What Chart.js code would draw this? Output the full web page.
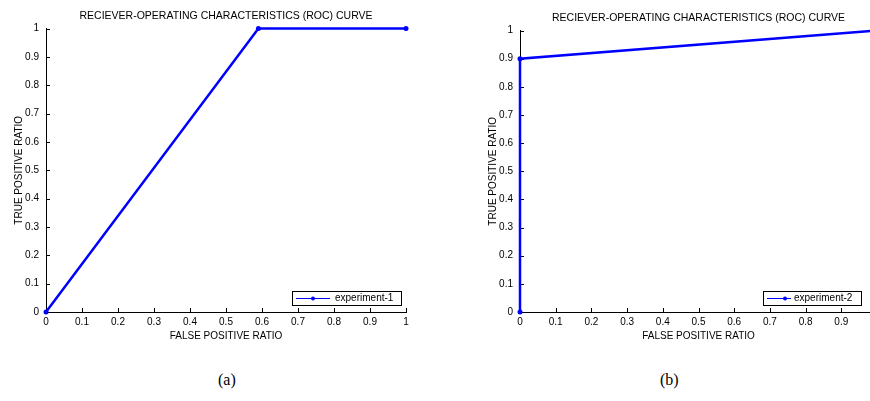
<!DOCTYPE html>
<html lang="en">
<head>
    <meta charset="UTF-8">
    <title>ROC curves</title>
    <script src="https://cdn.jsdelivr.net/npm/chart.js@4.4.0/dist/chart.umd.min.js"></script>
    <style>
        body { margin: 0; width: 870px; height: 401px; overflow: hidden; background: #fff; position: relative; }
        canvas { position: absolute; top: 0; }
        .cap { position: absolute; top: 371px; font: 16px "Liberation Serif", "Times New Roman", serif; color: #000; }
    </style>
</head>
<body>
    <canvas id="rocA" width="430" height="350" style="left:0"></canvas>
    <canvas id="rocB" width="430" height="350" style="left:474px"></canvas>
    <div class="cap" id="capA" style="left:218px"></div>
    <div class="cap" id="capB" style="left:660px"></div>
    <script>
    const chartTitle = 'RECIEVER-OPERATING CHARACTERISTICS (ROC) CURVE';
    const xTitle = 'FALSE POSITIVE RATIO';
    const yTitle = 'TRUE POSITIVE RATIO';
    const tickValues = [0, 0.1, 0.2, 0.3, 0.4, 0.5, 0.6, 0.7, 0.8, 0.9, 1];
    const tickLabels = ['0', '0.1', '0.2', '0.3', '0.4', '0.5', '0.6', '0.7', '0.8', '0.9', '1'];
    const seriesLabels = ['experiment-1', 'experiment-2'];
    const captions = ['(a)', '(b)'];

    // experiment-1
    const fprA = [0, 0.59, 1];
    const tprA = [0, 1, 1];
    // experiment-2
    const fprB = [0, 0, 1];
    const tprB = [0, 0.9, 1];

    const BLUE = '#0000ff';
    const FONT = "'Liberation Sans', Arial, sans-serif";

    // matlab style ticks pointing into the plot
    const inwardTicks = {
        id: 'inwardTicks',
        beforeDatasetsDraw(chart) {
            const {ctx, chartArea: a, scales: {x, y}} = chart;
            ctx.save();
            ctx.strokeStyle = '#000';
            ctx.lineWidth = 1;
            ctx.beginPath();
            x.ticks.forEach(t => {
                const px = Math.round(x.getPixelForValue(t.value)) + 0.5;
                ctx.moveTo(px, a.bottom);
                ctx.lineTo(px, a.bottom - 4);
            });
            y.ticks.forEach(t => {
                const py = Math.round(y.getPixelForValue(t.value)) + 0.5;
                ctx.moveTo(a.left, py);
                ctx.lineTo(a.left + 4, py);
            });
            ctx.stroke();
            ctx.restore();
        }
    };

    // legend box inside the axes, bottom right
    const boxLegend = {
        id: 'boxLegend',
        afterDraw(chart, args, opts) {
            const {ctx, chartArea: a} = chart;
            const ds = chart.data.datasets[0];
            const x1 = a.right - opts.right, x0 = x1 - opts.width;
            const y1 = a.bottom - opts.bottom, y0 = y1 - 14;
            const ym = (y0 + y1) / 2;
            ctx.save();
            ctx.fillStyle = '#fff';
            ctx.fillRect(x0, y0, x1 - x0, y1 - y0);
            ctx.strokeStyle = '#000';
            ctx.lineWidth = 1;
            ctx.strokeRect(Math.round(x0) + 0.5, Math.round(y0) + 0.5, Math.round(x1 - x0), Math.round(y1 - y0));
            ctx.strokeStyle = ds.borderColor;
            ctx.beginPath();
            ctx.moveTo(x0 + opts.lineFrom, Math.round(ym) + 0.5);
            ctx.lineTo(x0 + opts.lineTo, Math.round(ym) + 0.5);
            ctx.stroke();
            ctx.fillStyle = ds.borderColor;
            ctx.beginPath();
            ctx.arc(x0 + opts.marker, Math.round(ym) + 0.5, 2, 0, Math.PI * 2);
            ctx.fill();
            ctx.fillStyle = '#000';
            ctx.font = '10px ' + FONT;
            ctx.textBaseline = 'middle';
            ctx.fillText(ds.label, x0 + opts.text, ym + 0.5);
            ctx.restore();
        }
    };

    function rocChart(id, fpr, tpr, label, titleTop, legendOpts, padRight) {
        const ctx = document.getElementById(id).getContext('2d');
        return new Chart(ctx, {
            type: 'line',
            data: {
                datasets: [{
                    label: label,
                    data: fpr.map((v, i) => ({x: v, y: tpr[i]})),
                    borderColor: BLUE,
                    backgroundColor: BLUE,
                    borderWidth: 2.5,
                    pointRadius: 2.5,
                    pointBorderWidth: 0,
                    pointBackgroundColor: BLUE,
                    tension: 0,
                    clip: false
                }]
            },
            options: {
                responsive: false,
                animation: false,
                layout: {padding: {left: 0, right: padRight, top: 0, bottom: 0}},
                plugins: {
                    legend: {display: false},
                    tooltip: {enabled: false},
                    title: {
                        display: true,
                        text: chartTitle,
                        fullSize: false,
                        color: '#000',
                        font: {family: FONT, size: 10.5, weight: 'normal'},
                        padding: {top: titleTop, bottom: 6}
                    },
                    boxLegend: legendOpts
                },
                scales: {
                    x: {
                        type: 'linear',
                        min: 0,
                        max: 1,
                        afterBuildTicks: s => { s.ticks = tickValues.map(v => ({value: v})); },
                        afterFit: s => { s.height = 38; },
                        grid: {display: false, drawTicks: false},
                        border: {display: true, color: '#000', width: 1},
                        ticks: {
                            color: '#000',
                            padding: 4,
                            maxRotation: 0,
                            autoSkip: false,
                            font: {family: FONT, size: 10},
                            callback: (v, i) => tickLabels[i]
                        },
                        title: {
                            display: true,
                            text: xTitle,
                            color: '#000',
                            font: {family: FONT, size: 10},
                            padding: {top: 0, bottom: 8}
                        }
                    },
                    y: {
                        type: 'linear',
                        min: 0,
                        max: 1,
                        afterBuildTicks: s => { s.ticks = tickValues.map(v => ({value: v})); },
                        afterFit: s => { s.width = 46; },
                        grid: {display: false, drawTicks: false},
                        border: {display: true, color: '#000', width: 1},
                        ticks: {
                            color: '#000',
                            padding: 7,
                            autoSkip: false,
                            font: {family: FONT, size: 10},
                            callback: (v, i) => tickLabels[i]
                        },
                        title: {
                            display: true,
                            text: yTitle,
                            color: '#000',
                            font: {family: FONT, size: 10},
                            padding: {top: 13, bottom: 0}
                        }
                    }
                }
            },
            plugins: [inwardTicks, boxLegend]
        });
    }

    rocChart('rocA', fprA, tprA, seriesLabels[0], 10,
        {right: 5, bottom: 7, width: 109, lineFrom: 4, lineTo: 38, marker: 21, text: 43}, 24);
    rocChart('rocB', fprB, tprB, seriesLabels[1], 12,
        {right: 16, bottom: 7, width: 98, lineFrom: 4, lineTo: 28, marker: 22, text: 31}, 27);

    document.getElementById('capA').textContent = captions[0];
    document.getElementById('capB').textContent = captions[1];
    </script>
</body>
</html>
